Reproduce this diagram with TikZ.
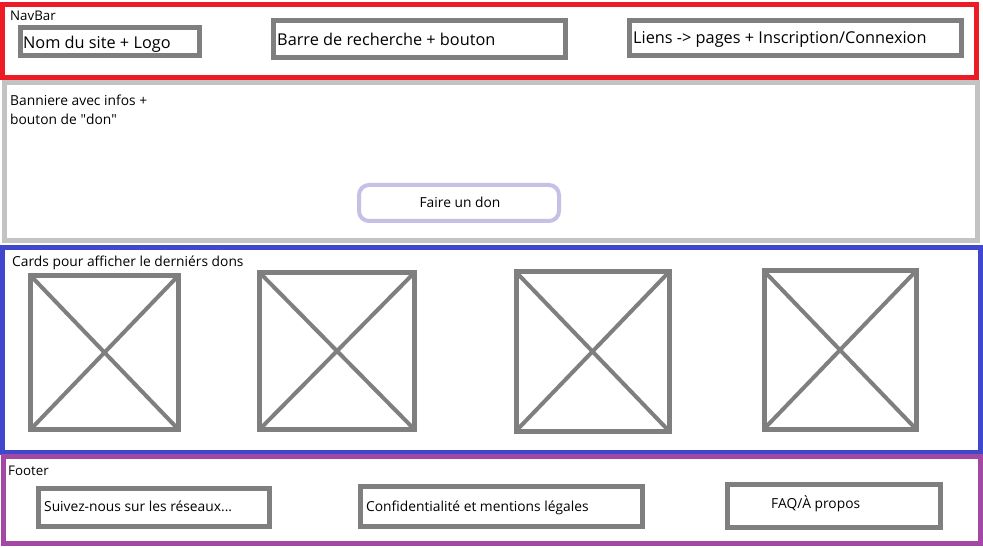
\documentclass[tikz,border=0pt]{standalone}
\usepackage{fontspec}
\setmainfont{Open Sans}
\definecolor{navred}{HTML}{ED1C24}
\definecolor{boxgray}{HTML}{7F7F7F}
\definecolor{bannergray}{HTML}{C3C3C3}
\definecolor{cardblue}{HTML}{3F48CC}
\definecolor{footpurple}{HTML}{A349A4}
\definecolor{lavender}{HTML}{C8BFE7}
\begin{document}
\begin{tikzpicture}[x=1pt,y=-1pt,
  frame/.style={draw, line width=5pt, inner sep=0pt, outer sep=0pt, anchor=north west},
  graybox/.style={draw=boxgray, line width=5pt, inner sep=0pt, outer sep=0pt, anchor=north west},
  card/.style={draw=boxgray, line width=5pt, inner sep=0pt, outer sep=0pt, anchor=north west},
  cross/.style={draw=boxgray, line width=4pt},
  bigtxt/.style={inner sep=0pt, anchor=base west, font=\fontsize{16.3}{19}\selectfont},
  smalltxt/.style={inner sep=0pt, anchor=base west, font=\fontsize{13.8}{19}\selectfont},
  labeltxt/.style={inner sep=0pt, anchor=base west, font=\fontsize{13.3}{16}\selectfont}]
\useasboundingbox[fill=white] (0,0) rectangle (983,548);

% section frames
\node[frame, draw=navred, minimum width=974pt, minimum height=73pt] (navbar) at (2.5,4.5) {};
\node[frame, draw=bannergray, minimum width=972.5pt, minimum height=158.5pt] (banner) at (4.5,82.5) {};
\node[frame, draw=cardblue, minimum width=978pt, minimum height=205pt] (cards) at (2.5,247.5) {};
\node[frame, draw=footpurple, minimum width=977pt, minimum height=87pt] (footer) at (3.5,456.5) {};

% navbar
\node[labeltxt] (navlbl) at (10,21) {NavBar};
\node[graybox, minimum width=179pt, minimum height=28pt] (logo) at (20.5,27.5) {};
\node[bigtxt] (logotxt) at (23,49) {Nom du site + Logo};
\node[graybox, minimum width=292pt, minimum height=37pt] (search) at (273,21) {};
\node[bigtxt] (searchtxt) at (277,46) {Barre de recherche + bouton};
\node[graybox, minimum width=332pt, minimum height=35pt] (links) at (629.5,21) {};
\node[bigtxt] (linkstxt) at (633,44) {Liens -> pages + Inscription/Connexion};

% banner (base anchor of a two-line node sits on its last line)
\node[smalltxt, align=left] (bannertxt) at (10,125)
  {Banniere avec infos +\\bouton de \textquotedbl don\textquotedbl};
\node[draw=lavender, line width=4pt, rounded corners=10pt, inner sep=0pt, outer sep=0pt,
      anchor=north west, minimum width=200pt, minimum height=36pt] (donate) at (359,185) {};
\node[smalltxt, anchor=base] (donatetxt) at (460,208) {Faire un don};

% cards
\node[smalltxt] (cardslbl) at (12,266.7) {Cards pour afficher le derniérs dons};
\node[card, minimum width=148pt, minimum height=154pt] (c1) at (30.5,275.5) {};
\node[card, minimum width=155pt, minimum height=157pt] (c2) at (259.5,272.5) {};
\node[card, minimum width=153pt, minimum height=159pt] (c3) at (516,272) {};
\node[card, minimum width=152pt, minimum height=158pt] (c4) at (764,271) {};
\foreach \c in {c1,c2,c3,c4}{
  \draw[cross] (\c.north west) -- (\c.south east);
  \draw[cross] (\c.north east) -- (\c.south west);
}

% footer
\node[labeltxt] (footlbl) at (8,475) {Footer};
\node[graybox, minimum width=231pt, minimum height=38pt] (social) at (38,488) {};
\node[smalltxt] (socialtxt) at (44,511.7) {Suivez-nous sur les réseaux...};
\node[graybox, minimum width=282pt, minimum height=40pt] (legal) at (360.5,486) {};
\node[smalltxt] (legaltxt) at (366,511.7) {Confidentialité et mentions légales};
\node[graybox, minimum width=213pt, minimum height=43pt] (faq) at (727,484) {};
\node[smalltxt] (faqtxt) at (771,508) {FAQ/À propos};
\end{tikzpicture}
\end{document}
